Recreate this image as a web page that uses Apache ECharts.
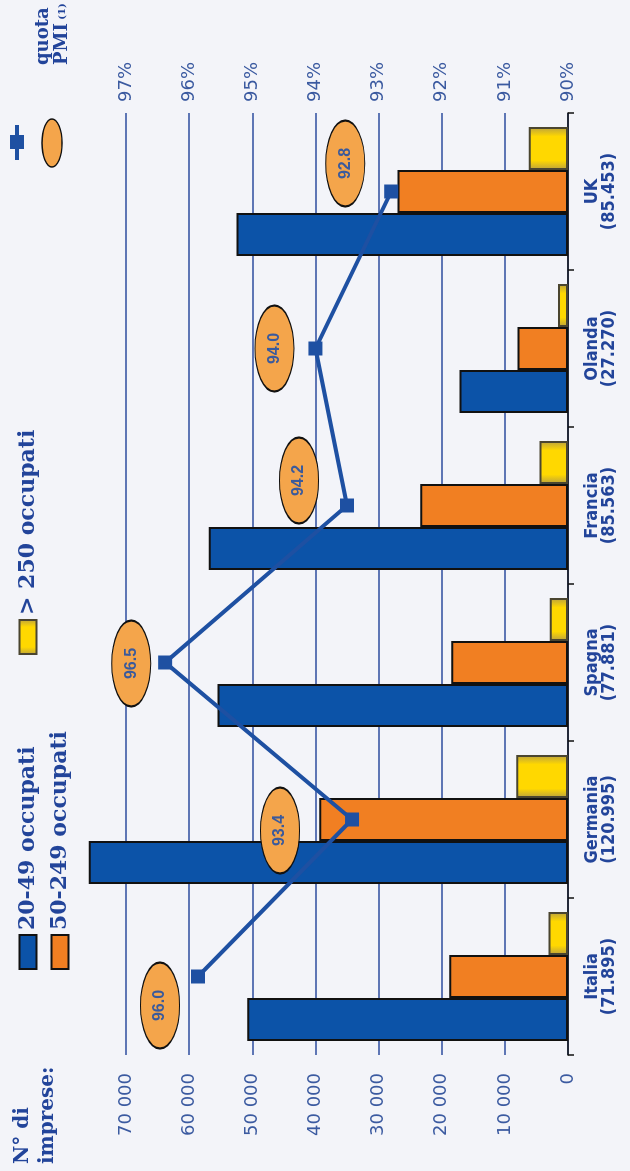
<!DOCTYPE html>
<html><head><meta charset="utf-8">
<script src="https://cdn.jsdelivr.net/npm/echarts@6/dist/echarts.min.js"></script>
<style>
html,body{margin:0;padding:0;background:#F3F4F9;overflow:hidden;width:630px;height:1171px;}
#chart{position:absolute;left:0;top:1171px;width:1171px;height:630px;transform-origin:0 0;transform:rotate(-90deg);}
</style></head><body><div id="chart"></div>
<script>
// ---- data ----
const categories = ['Italia', 'Germania', 'Spagna', 'Francia', 'Olanda', 'UK'];
const totals = ['71.895', '120.995', '77.881', '85.563', '27.270', '85.453'];
const seriesNames = ['20-49 occupati', '50-249 occupati', '> 250 occupati'];
const small20_49 = [50800, 75900, 55500, 56900, 17200, 52500];
const mid50_249 = [18800, 39400, 18500, 23400, 8000, 27000];
const large250 = [3100, 8200, 2900, 4500, 1600, 6200];
const quotaPMI = [95.86, 93.42, 96.38, 93.5, 94.0, 92.8];
const quotaLabels = ['96.0', '93.4', '96.5', '94.2', '94.0', '92.8'];
const countAxis = { min: 0, max: 70000, interval: 10000 };
const pctAxis = { min: 90, max: 97, interval: 1 };

// ---- styling ----
const BLUE = '#0C53A8', ORANGE = '#F17F22', LINE = '#1E50A2';
const TXT = '#22449A', AXTXT = '#3B5AA0';
const ellipseOffsets = [[-29, -38], [-11, -72], [-1, -34], [25, -48], [0, -41], [28, -46]];
const ellipsePath = 'path://M0,25 A50,25 0 1,1 100,25 A50,25 0 1,1 0,25 Z';
const yellowFill = new echarts.graphic.LinearGradient(0, 0, 1, 0, [
  { offset: 0, color: '#B9A040' }, { offset: 0.22, color: '#FFD800' },
  { offset: 0.78, color: '#FFD800' }, { offset: 1, color: '#B9A040' }]);
const serifBold = { fontFamily: 'DejaVu Serif', fontWeight: 'bold', color: TXT };

const chart = echarts.init(document.getElementById('chart'), null, { width: 1171, height: 630, renderer: 'canvas' });

const barBase = { type: 'bar', barWidth: 43, barGap: '0%', clip: false, z: 2 };
chart.setOption({
  backgroundColor: '#F3F4F9',
  animation: false,
  title: {
    text: 'N° di\nimprese:', left: 2, top: 5,
    textStyle: Object.assign({ fontSize: 20, lineHeight: 25 }, serifBold)
  },
  legend: [
    { data: [seriesNames[0], seriesNames[1]], orient: 'vertical', left: 196, top: 12, icon: 'rect',
      itemWidth: 34, itemHeight: 17, itemGap: 10, selectedMode: false,
      textStyle: Object.assign({ fontSize: 22 }, serifBold) },
    { data: [seriesNames[2]], orient: 'vertical', left: 511, top: 12, icon: 'rect',
      itemWidth: 34, itemHeight: 17, selectedMode: false,
      textStyle: Object.assign({ fontSize: 22 }, serifBold) }
  ],
  graphic: [
    { type: 'line', shape: { x1: 1011, y1: 17, x2: 1046, y2: 17 }, style: { stroke: LINE, lineWidth: 4 } },
    { type: 'rect', shape: { x: 1022, y: 10, width: 14, height: 14 }, style: { fill: LINE } },
    { type: 'ellipse', shape: { cx: 1028, cy: 52, rx: 24, ry: 10 }, style: { fill: '#F4A54B', stroke: '#111', lineWidth: 1.5 } },
    { type: 'text', left: 1106, top: 34, style: {
        text: '{a|quota}\n{a|PMI} {b|(1)}',
        rich: { a: { fontFamily: 'DejaVu Serif', fontWeight: 'bold', fontSize: 18, lineHeight: 19, fill: TXT, color: TXT },
                b: { fontFamily: 'DejaVu Serif', fontWeight: 'bold', fontSize: 10, lineHeight: 19, fill: TXT, color: TXT } } } }
  ],
  grid: { left: 116, right: 113, top: 126, bottom: 62, containLabel: false },
  xAxis: {
    type: 'category', data: categories,
    axisLine: { lineStyle: { color: '#111', width: 1.5 } },
    axisTick: { show: true, length: 6, lineStyle: { color: '#111', width: 1.5 } },
    axisLabel: {
      interval: 0, margin: 16, lineHeight: 17,
      formatter: (v, i) => v + '\n(' + totals[i] + ')',
      fontFamily: "'Liberation Sans Narrow', 'DejaVu Sans Condensed', 'Liberation Sans'",
      fontWeight: 'bold', fontSize: 18, color: TXT
    }
  },
  yAxis: [
    { type: 'value', min: countAxis.min, max: countAxis.max, interval: countAxis.interval,
      axisLine: { show: false }, axisTick: { show: false },
      splitLine: { lineStyle: { color: '#2C4C9E', width: 1.5 } },
      axisLabel: { margin: 18, fontFamily: 'DejaVu Sans', fontSize: 18, color: AXTXT,
        formatter: v => v === 0 ? '0' : (v / 1000) + ' 000' } },
    { type: 'value', min: pctAxis.min, max: pctAxis.max, interval: pctAxis.interval, position: 'right',
      axisLine: { show: false }, axisTick: { show: false }, splitLine: { show: false },
      axisLabel: { margin: 11, fontFamily: 'DejaVu Sans', fontSize: 18, color: AXTXT, formatter: '{value}%' } }
  ],
  series: [
    Object.assign({}, barBase, { name: seriesNames[0], data: small20_49,
      itemStyle: { color: BLUE, borderColor: '#111', borderWidth: 2 } }),
    Object.assign({}, barBase, { name: seriesNames[1], data: mid50_249,
      itemStyle: { color: ORANGE, borderColor: '#111', borderWidth: 2 } }),
    Object.assign({}, barBase, { name: seriesNames[2], data: large250,
      itemStyle: { color: yellowFill, borderColor: '#4A4530', borderWidth: 2 } }),
    { type: 'line', name: 'quota PMI', yAxisIndex: 1, data: quotaPMI, z: 4,
      symbol: 'rect', symbolSize: 14, lineStyle: { color: LINE, width: 4 }, itemStyle: { color: LINE } },
    { type: 'scatter', name: 'etichette', yAxisIndex: 1, z: 5, silent: true,
      data: quotaPMI.map((v, i) => ({ value: [categories[i], v], symbolOffset: ellipseOffsets[i] })),
      symbol: ellipsePath, symbolSize: [86, 39],
      itemStyle: { color: '#F4A54B', borderColor: '#111', borderWidth: 1.5, opacity: 1 },
      label: { show: true, position: 'inside', formatter: p => quotaLabels[p.dataIndex],
        fontFamily: 'Liberation Sans', fontWeight: 'bold', fontSize: 16, color: '#3A5A9C' } }
  ]
});
</script></body></html>
